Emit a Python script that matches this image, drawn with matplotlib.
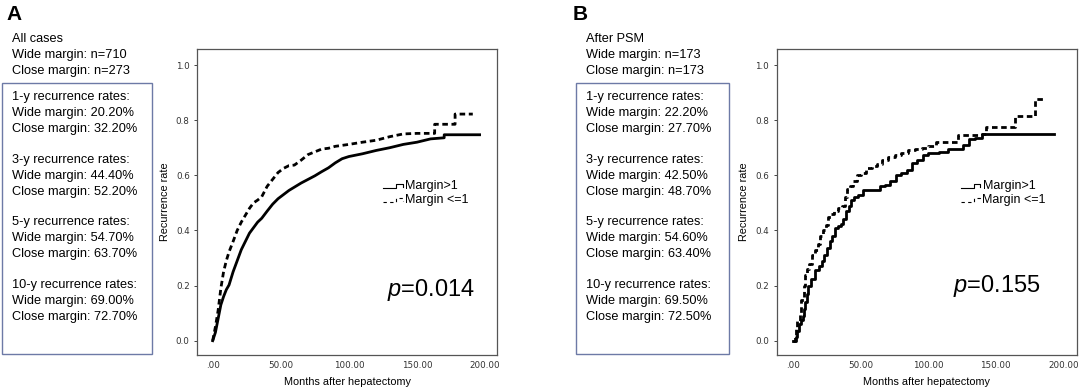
import matplotlib.pyplot as plt

plt.rcParams['font.family'] = ['Liberation Sans', 'DejaVu Sans']
plt.rcParams['mathtext.fontset'] = 'custom'
plt.rcParams['mathtext.it'] = 'Liberation Sans:italic'
plt.rcParams['mathtext.rm'] = 'Liberation Sans'

# panel A, all cases (months, cumulative recurrence)
a_wide_t = [0, 2, 4, 6, 8, 10, 12, 15, 18, 21, 24, 27, 30, 33, 36, 40, 44, 48, 52, 56, 60,
            65, 70, 75, 80, 85, 90, 95, 100, 110, 120, 130, 140, 150, 160, 170, 170, 196]
a_wide_y = [0, 0.03, 0.08, 0.13, 0.16, 0.185, 0.202, 0.25, 0.29, 0.33, 0.36, 0.39, 0.41, 0.43,
            0.444, 0.47, 0.495, 0.515, 0.53, 0.545, 0.557, 0.572, 0.585, 0.598, 0.613, 0.627,
            0.645, 0.66, 0.668, 0.678, 0.69, 0.70, 0.712, 0.72, 0.732, 0.736, 0.747, 0.747]
a_close_t = [0, 2, 4, 6, 8, 10, 12, 15, 18, 21, 24, 27, 30, 33, 36, 40, 44, 48, 52, 56, 60,
             65, 70, 75, 80, 85, 90, 100, 110, 120, 130, 140, 150, 163, 163, 178, 178, 191]
a_close_y = [0, 0.05, 0.11, 0.19, 0.25, 0.29, 0.322, 0.36, 0.40, 0.43, 0.455, 0.48, 0.50, 0.51,
             0.522, 0.56, 0.585, 0.61, 0.625, 0.635, 0.637, 0.655, 0.675, 0.685, 0.695, 0.698,
             0.705, 0.712, 0.72, 0.727, 0.74, 0.75, 0.752, 0.752, 0.785, 0.785, 0.822, 0.822]

# panel B, after PSM
b_wide_t = [0, 2, 3, 4, 6, 7, 8, 9, 10, 11, 13, 16, 19, 21, 23, 25, 27, 29, 31, 33, 35, 37, 39,
            41, 43, 45, 48, 52, 56, 60, 64, 68, 72, 76, 80, 84, 88, 92, 96, 100, 108, 115, 122,
            126, 130, 135, 140, 193]
b_wide_y = [0, 0.012, 0.035, 0.06, 0.075, 0.09, 0.115, 0.14, 0.17, 0.20, 0.222, 0.256, 0.27,
            0.29, 0.31, 0.335, 0.36, 0.38, 0.41, 0.415, 0.425, 0.44, 0.47, 0.49, 0.51, 0.52,
            0.53, 0.546, 0.546, 0.546, 0.56, 0.565, 0.58, 0.6, 0.61, 0.62, 0.645, 0.655, 0.675,
            0.68, 0.685, 0.695, 0.695, 0.71, 0.73, 0.735, 0.75, 0.75]
b_close_t = [0, 1, 2, 3, 5, 6, 8, 9, 10, 12, 14, 16, 18, 20, 22, 24, 26, 28, 30, 33, 36, 38, 40,
             42, 44, 47, 50, 54, 58, 62, 66, 70, 75, 80, 85, 90, 95, 100, 106, 112, 122, 130,
             140, 143, 164, 179, 187]
b_close_y = [0, 0.02, 0.05, 0.07, 0.1, 0.148, 0.2, 0.24, 0.26, 0.277, 0.31, 0.33, 0.35, 0.38,
             0.40, 0.42, 0.45, 0.46, 0.47, 0.48, 0.49, 0.52, 0.55, 0.56, 0.58, 0.6, 0.61, 0.625,
             0.634, 0.64, 0.655, 0.665, 0.675, 0.68, 0.69, 0.695, 0.70, 0.705, 0.72, 0.722,
             0.745, 0.745, 0.75, 0.775, 0.815, 0.877, 0.877]

xticks = [0, 50, 100, 150, 200]
xtick_labels = ['.00', '50.00', '100.00', '150.00', '200.00']
yticks = [0.0, 0.2, 0.4, 0.6, 0.8, 1.0]

a_header = ['All cases', 'Wide margin: n=710', 'Close margin: n=273']
b_header = ['After PSM', 'Wide margin: n=173', 'Close margin: n=173']
years = ['1-y', '3-y', '5-y', '10-y']
a_wide_rates = ['20.20%', '44.40%', '54.70%', '69.00%']
a_close_rates = ['32.20%', '52.20%', '63.70%', '72.70%']
b_wide_rates = ['22.20%', '42.50%', '54.60%', '69.50%']
b_close_rates = ['27.70%', '48.70%', '63.40%', '72.50%']

W, H = 1079, 390
fig = plt.figure(figsize=(W / 100, H / 100), dpi=100)


def px(x, y):
    return x / W, 1 - y / H


def km_panel(left, wide_t, wide_y, close_t, close_y, pval, leg_x, p_xy, xlim, ds):
    ax = fig.add_axes([left / W, 0.0897, 300 / W, 0.7846])
    ax.plot(wide_t, wide_y, drawstyle=ds, color='black', lw=2.0)
    ax.plot(close_t, close_y, drawstyle=ds, color='black', lw=2.0, dashes=(2.0, 1.3))
    ax.set_xlim(*xlim)
    ax.set_ylim(-0.052, 1.058)
    ax.set_xticks(xticks)
    ax.set_xticklabels(xtick_labels)
    ax.set_yticks(yticks)
    ax.set_yticklabels(['%.1f' % v for v in yticks])
    for lab in ax.get_xticklabels() + ax.get_yticklabels():
        lab.set_family('DejaVu Sans')
        lab.set_fontsize(6.3)
        lab.set_color('#333333')
    ax.tick_params(axis='x', length=0, pad=4)
    ax.tick_params(axis='y', length=2.5, width=0.7, pad=3, color='#444444')
    for s in ax.spines.values():
        s.set_color('#555555')
        s.set_linewidth(0.9)
    ax.set_xlabel('Months after hepatectomy', fontsize=7.8)
    ax.set_ylabel('Recurrence rate', fontsize=7.8)
    ax.xaxis.set_label_coords(0.5, -0.072)
    ax.yaxis.set_label_coords(-0.092, 0.5)

    # legend with step-shaped keys
    for k, (lab, style) in enumerate([('Margin>1', '-'), ('Margin <=1', '--')]):
        yy = 0.552 - k * 0.046
        xs = [leg_x, leg_x + 0.043, leg_x + 0.043, leg_x + 0.066, leg_x + 0.066]
        ys = [yy - 0.006, yy - 0.006, yy + 0.008, yy + 0.008, yy - 0.004]
        ax.plot(xs, ys, transform=ax.transAxes, color='black', lw=0.8, ls=style,
                dashes=(3, 3) if style == '--' else (None, None))
        ax.text(leg_x + 0.073, yy, lab, transform=ax.transAxes, fontsize=9,
                va='center', ha='left')

    ax.text(p_xy[0], p_xy[1], r'$\mathit{p}$=' + pval, transform=ax.transAxes,
            fontsize=17, va='center', ha='left')
    return ax


km_panel(197.3, a_wide_t, a_wide_y, a_close_t, a_close_y, '0.014', 0.618,
         (0.631, 0.212), (-11.3, 209), 'default')
km_panel(776.7, b_wide_t, b_wide_y, b_close_t, b_close_y, '0.155', 0.613,
         (0.588, 0.227), (-12.3, 210), 'steps-post')


def text_block(letter, lx, tx, box_l, box_r, header, wide, close):
    fig.text(*px(lx, 15), letter, fontsize=15, fontweight='bold', va='center', ha='left')
    for i, line in enumerate(header):
        fig.text(*px(tx, 39 + 16 * i), line, fontsize=9.2, va='center', ha='left')
    for g in range(4):
        y0 = 97 + 62.7 * g
        lines = [years[g] + ' recurrence rates:',
                 'Wide margin: ' + wide[g],
                 'Close margin: ' + close[g]]
        for i, line in enumerate(lines):
            fig.text(*px(tx, y0 + 16 * i), line, fontsize=9.2, va='center', ha='left')
    x0, y1 = px(box_l, 354)
    x1, y0 = px(box_r, 83)
    fig.add_artist(plt.Rectangle((x0, y1), x1 - x0, y0 - y1, transform=fig.transFigure,
                                 fill=False, edgecolor='#6d7aa6', lw=1.0))


text_block('A', 6, 12, 2, 152, a_header, a_wide_rates, a_close_rates)
text_block('B', 573, 586, 576, 729, b_header, b_wide_rates, b_close_rates)

fig.savefig('out.png', dpi=100)
